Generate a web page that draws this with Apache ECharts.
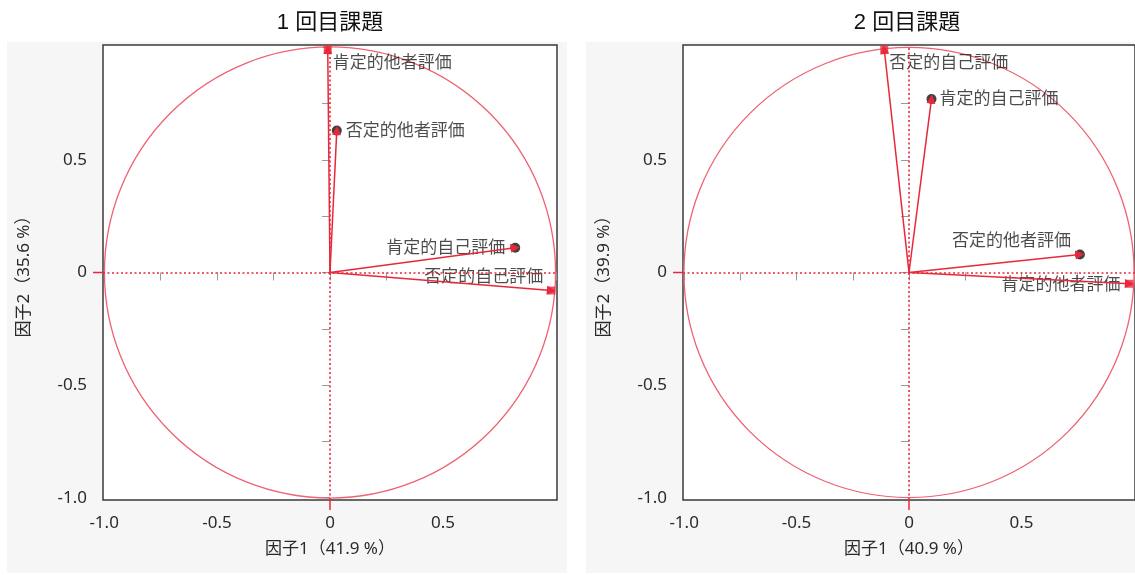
<!DOCTYPE html>
<html>
<head>
<meta charset="utf-8">
<title>因子負荷量プロット</title>
<script src="https://cdn.jsdelivr.net/npm/echarts@6/dist/echarts.min.js"></script>
<style>
  html, body { margin: 0; padding: 0; background: #ffffff; }
  #chart { width: 1135px; height: 575px; }
</style>
</head>
<body>
<div id="chart"></div>
<script>
// Factor loadings for each round (factor 1 on x, factor 2 on y)
const round1Title = '1 回目課題';
const round1Vars = ['肯定的他者評価', '否定的他者評価', '肯定的自己評価', '否定的自己評価'];
const round1Factor1 = [-0.01, 0.03, 0.82, 0.98];
const round1Factor2 = [0.99, 0.63, 0.11, -0.08];
const round1XName = '因子1（41.9 %）';
const round1YName = '因子2（35.6 %）';

const round2Title = '2 回目課題';
const round2Vars = ['否定的自己評価', '肯定的自己評価', '否定的他者評価', '肯定的他者評価'];
const round2Factor1 = [-0.11, 0.10, 0.76, 0.98];
const round2Factor2 = [0.99, 0.77, 0.08, -0.05];
const round2XName = '因子1（40.9 %）';
const round2YName = '因子2（39.9 %）';

// Tick positions and labels shared by both plots
const tickValues = [-1, -0.75, -0.5, -0.25, 0, 0.25, 0.5, 0.75, 1];
const xLabelValues = [-1, -0.5, 0, 0.5];
const yLabelValues = [-1, -0.5, 0, 0.5];

const RED = '#e8283a';
const CIRCLE = '#ee6272';
const FONT = '"Noto Sans", "Noto Sans CJK JP", sans-serif';
const TEXT = '#2a2a2a';

const chart = echarts.init(document.getElementById('chart'));

function fmt(v) { return v === 0 ? '0' : v.toFixed(1); }

// Label placement around each arrow tip, keyed by variable name per plot
const labelPlacement = [
  {
    '肯定的他者評価': { position: 'right', offset: [-3, 14] },
    '否定的他者評価': { position: 'right', offset: [0, 1] },
    '肯定的自己評価': { position: 'left', offset: [-1, 0] },
    '否定的自己評価': { position: 'left', offset: [0, -13] }
  },
  {
    '否定的自己評価': { position: 'right', offset: [-3, 14] },
    '肯定的自己評価': { position: 'right', offset: [-1, 0] },
    '否定的他者評価': { position: 'left', offset: [0, -13] },
    '肯定的他者評価': { position: 'left', offset: [-1, 1] }
  }
];

function makeAxes(idx, xName, yName) {
  const x = {
    type: 'value', gridIndex: idx, min: -1.005, max: 1.005,
    position: 'bottom',
    axisLine: { show: false },
    splitLine: { show: false },
    axisTick: { show: true, customValues: tickValues, length: 8, lineStyle: { color: '#9a9a9a', width: 1 } },
    axisLabel: { customValues: xLabelValues, formatter: fmt, margin: 15, fontSize: 17, color: TEXT, fontFamily: FONT },
    name: xName, nameLocation: 'middle', nameGap: 41,
    nameTextStyle: { fontSize: 17, color: TEXT, fontFamily: FONT }
  };
  const y = {
    type: 'value', gridIndex: idx, min: -1.01, max: 1.01,
    axisLine: { show: false },
    splitLine: { show: false },
    axisTick: { show: true, customValues: tickValues, length: 8, lineStyle: { color: '#9a9a9a', width: 1 } },
    axisLabel: { customValues: yLabelValues, formatter: fmt, margin: 16, fontSize: 17, color: TEXT, fontFamily: FONT },
    name: yName, nameLocation: 'middle', nameGap: 70, nameRotate: 90,
    nameTextStyle: { fontSize: 17, color: TEXT, fontFamily: FONT }
  };
  return { x, y };
}

function makeSeries(idx, vars, f1, f2) {
  const series = [];
  // Unit correlation circle plus the red origin ticks outside the frame
  series.push({
    type: 'custom', xAxisIndex: idx, yAxisIndex: idx, silent: true, clip: false, z: 2,
    data: [[0, 0]],
    renderItem: function (params, api) {
      const c = api.coord([0, 0]);
      const ex = api.coord([1, 0]);
      const ey = api.coord([0, 1]);
      const r = ((ex[0] - c[0]) + (c[1] - ey[1])) / 2;
      const bottom = api.coord([0, -1.01]);
      const leftEdge = api.coord([-1.005, 0]);
      return {
        type: 'group',
        children: [
          { type: 'circle', shape: { cx: c[0], cy: c[1], r: r }, style: { fill: 'none', stroke: CIRCLE, lineWidth: 1.3 } },
          { type: 'line', shape: { x1: c[0], y1: bottom[1], x2: c[0], y2: bottom[1] + 10 }, style: { stroke: RED, lineWidth: 1.5 } },
          { type: 'line', shape: { x1: leftEdge[0] - 10, y1: c[1], x2: leftEdge[0], y2: c[1] }, style: { stroke: RED, lineWidth: 1.5 } }
        ]
      };
    }
  });
  // End points with labels, and the dotted reference lines through the origin
  series.push({
    type: 'scatter', xAxisIndex: idx, yAxisIndex: idx, silent: true, z: 3,
    data: vars.map(function (name, i) {
      const onCircle = Math.hypot(f1[i], f2[i]) > 0.95;
      const place = labelPlacement[idx][name];
      return {
        name: name,
        value: [f1[i], f2[i]],
        symbol: onCircle ? 'rect' : 'circle',
        symbolSize: onCircle ? 8 : 10,
        itemStyle: { color: onCircle ? RED : '#111111' },
        label: {
          show: true, formatter: name, position: place.position, offset: place.offset,
          distance: 4, fontSize: 17, color: '#1e1e1e', fontFamily: FONT
        }
      };
    }),
    markLine: {
      silent: true, symbol: 'none', animation: false,
      label: { show: false },
      lineStyle: { color: RED, type: [2, 2.5], width: 1.6 },
      data: [{ xAxis: 0 }, { yAxis: 0 }]
    }
  });
  // Loading arrows from the origin
  series.push({
    type: 'lines', coordinateSystem: 'cartesian2d', xAxisIndex: idx, yAxisIndex: idx,
    silent: true, z: 4,
    symbol: ['none', 'triangle'], symbolSize: 9,
    lineStyle: { color: RED, width: 1.5, opacity: 1 },
    data: vars.map(function (name, i) { return { coords: [[0, 0], [f1[i], f2[i]]] }; })
  });
  return series;
}

const a1 = makeAxes(0, round1XName, round1YName);
const a2 = makeAxes(1, round2XName, round2YName);

chart.setOption({
  backgroundColor: '#ffffff',
  animation: false,
  graphic: [
    { type: 'rect', shape: { x: 7, y: 42, width: 560, height: 531 }, style: { fill: '#f6f6f6' }, z: -10, silent: true },
    { type: 'rect', shape: { x: 586, y: 42, width: 560, height: 531 }, style: { fill: '#f6f6f6' }, z: -10, silent: true }
  ],
  title: [
    { text: round1Title, left: 325, top: 7, textAlign: 'center',
      textStyle: { fontSize: 22, fontWeight: 'normal', color: '#111111', fontFamily: '"Liberation Sans", "Noto Sans CJK JP", sans-serif' } },
    { text: round2Title, left: 902, top: 7, textAlign: 'center',
      textStyle: { fontSize: 22, fontWeight: 'normal', color: '#111111', fontFamily: '"Liberation Sans", "Noto Sans CJK JP", sans-serif' } }
  ],
  grid: [
    { left: 103, top: 45, width: 454, height: 455, show: true, backgroundColor: '#ffffff', borderColor: '#3a3a3a', borderWidth: 1.5 },
    { left: 683, top: 45, width: 452, height: 455, show: true, backgroundColor: '#ffffff', borderColor: '#3a3a3a', borderWidth: 1.5 }
  ],
  xAxis: [a1.x, a2.x],
  yAxis: [a1.y, a2.y],
  series: makeSeries(0, round1Vars, round1Factor1, round1Factor2)
    .concat(makeSeries(1, round2Vars, round2Factor1, round2Factor2))
});
</script>
</body>
</html>
